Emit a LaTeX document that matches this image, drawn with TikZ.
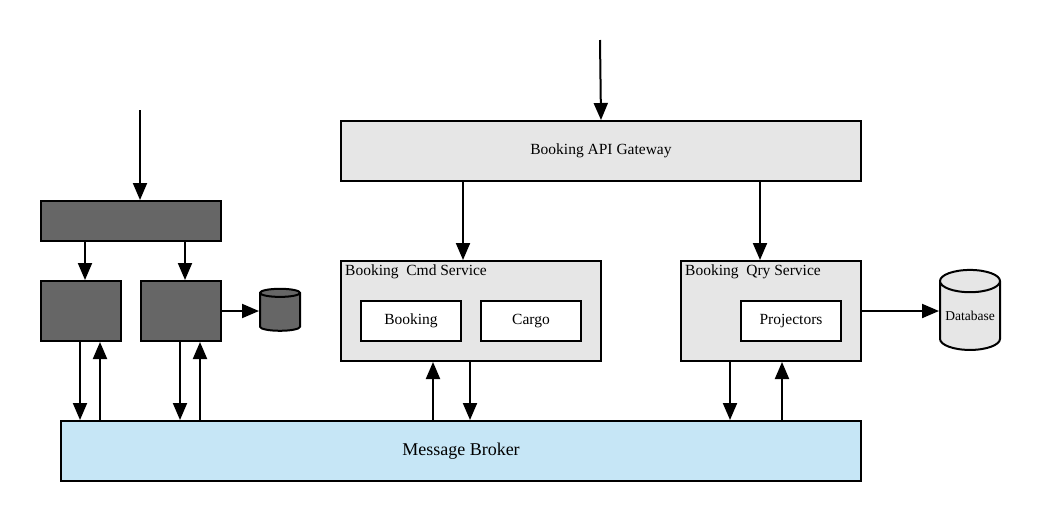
\documentclass[tikz,border=0pt]{standalone}
\usepackage{fontspec}
\setmainfont{Liberation Serif}
\usetikzlibrary{shapes.geometric,arrows.meta}
\definecolor{darkbox}{HTML}{666666}
\definecolor{lightbox}{HTML}{E6E6E6}
\definecolor{brokerblue}{HTML}{C6E6F6}
\tikzset{
    dark-box/.style = {draw=black, fill=darkbox, line width=2pt, rectangle, anchor=north west, inner sep=0pt},
    service-box/.style = {draw=black, fill=lightbox, line width=2pt, rectangle, anchor=north west, inner sep=0pt},
    inner-box/.style = {draw=black, fill=white, line width=2pt, rectangle, anchor=north west, inner sep=0pt, font=\fontsize{15.5}{18}\selectfont},
    box-title/.style = {anchor=west, inner sep=0pt, font=\fontsize{15.5}{18}\selectfont},
    db-cyl/.style = {draw=black, line width=2pt, cylinder, shape border rotate=90, aspect=0.45},
    arr/.style = {line width=2pt, -{Triangle[length=17pt,width=14pt]}},
}
\begin{document}
\begin{tikzpicture}[x=1pt,y=-1pt]
\useasboundingbox (0,0) rectangle (1040,520);
% gateway and services
\coordinate (gw-in) at (600,40);
\node[service-box, minimum width=520pt, minimum height=60pt, font=\fontsize{15.5}{18}\selectfont] (gateway) at (340,120) {Booking API Gateway};
\node[service-box, minimum width=260pt, minimum height=100pt] (cmd) at (340,260) {};
\node[box-title] (cmd-title) at (345,272) {Booking\ \ Cmd Service};
\node[inner-box, minimum width=100pt, minimum height=40pt] (booking) at (360,300) {Booking};
\node[inner-box, minimum width=100pt, minimum height=40pt] (cargo) at (480,300) {Cargo};
\node[service-box, minimum width=180pt, minimum height=100pt] (qry) at (680,260) {};
\node[box-title] (qry-title) at (685,272) {Booking\ \ Qry Service};
\node[inner-box, minimum width=100pt, minimum height=40pt] (projectors) at (740,300) {Projectors};
\node[db-cyl, fill=lightbox, inner sep=0pt, minimum width=60pt, minimum height=80pt, font=\fontsize{13.5}{16}\selectfont] (database) at (970,316) {Database};
% broker
\node[service-box, fill=brokerblue, minimum width=800pt, minimum height=60pt, font=\fontsize{18}{21}\selectfont] (broker) at (60,420) {Message Broker};
% left side
\coordinate (left-in) at (140,110);
\node[dark-box, minimum width=180pt, minimum height=40pt] (router) at (40,200) {};
\node[dark-box, minimum width=80pt, minimum height=60pt] (svc-a) at (40,280) {};
\node[dark-box, minimum width=80pt, minimum height=60pt] (svc-b) at (140,280) {};
\node[db-cyl, fill=darkbox, inner sep=9pt, minimum width=40pt, minimum height=42pt] (store) at (280,314) {};

\draw[arr] (gw-in) -- (gateway.north);
\draw[arr] (gateway.south -| 463,0) -- (cmd.north -| 463,0);
\draw[arr] (gateway.south -| 760,0) -- (qry.north -| 760,0);
\draw[arr] (qry.east) -- (qry.east -| database.west);
\draw[arr] (broker.north -| 433,0) -- (cmd.south -| 433,0);
\draw[arr] (cmd.south -| 470,0) -- (broker.north -| 470,0);
\draw[arr] (qry.south -| 730,0) -- (broker.north -| 730,0);
\draw[arr] (broker.north -| 782,0) -- (qry.south -| 782,0);

\draw[arr] (left-in) -- (router.north -| left-in);
\draw[arr] (router.south -| 85,0) -- (svc-a.north -| 85,0);
\draw[arr] (router.south -| 185,0) -- (svc-b.north -| 185,0);
\draw[arr] (svc-b.east) -- (svc-b.east -| store.west);
\draw[arr] (svc-a.south -| 80,0) -- (broker.north -| 80,0);
\draw[arr] (broker.north -| 100,0) -- (svc-a.south -| 100,0);
\draw[arr] (svc-b.south -| 180,0) -- (broker.north -| 180,0);
\draw[arr] (broker.north -| 200,0) -- (svc-b.south -| 200,0);
\end{tikzpicture}
\end{document}
